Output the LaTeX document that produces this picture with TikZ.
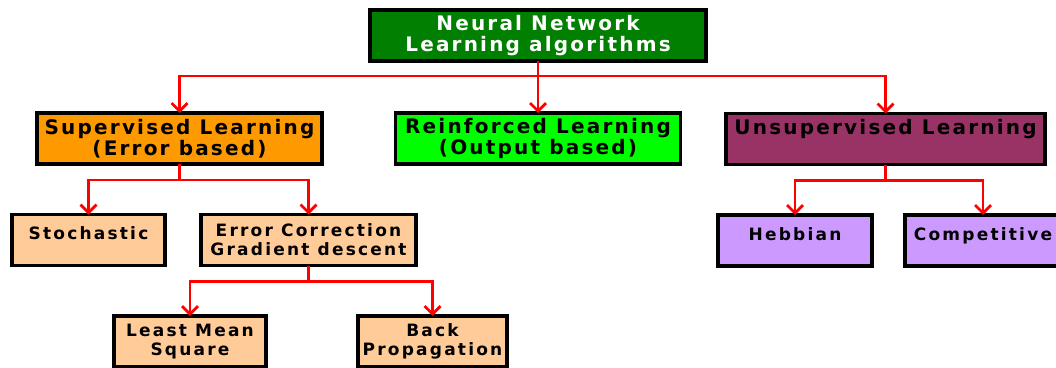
\documentclass[tikz,border=0pt]{standalone}
\usepackage{fontspec}
\newfontfamily\bigboxfont[LetterSpace=11]{DejaVu Sans}
\newfontfamily\smallboxfont[LetterSpace=13]{DejaVu Sans}
\usetikzlibrary{arrows.meta}
\definecolor{nngreen}{HTML}{007F00}
\definecolor{suporange}{HTML}{FF9900}
\definecolor{reinlime}{HTML}{00FF00}
\definecolor{unsmaroon}{HTML}{993366}
\definecolor{leafpeach}{HTML}{FFCC99}
\definecolor{leaflilac}{HTML}{CC99FF}

\begin{document}
\begin{tikzpicture}[x=1pt,y=-1pt,align=center,outer sep=0pt,
	box/.style={draw,line width=3.5pt,inner sep=0pt,minimum height=51pt},
	big/.style={font=\bigboxfont\bfseries\fontsize{20}{20.5}\selectfont},
	small/.style={font=\smallboxfont\bfseries\fontsize{17}{19}\selectfont},
	lifted/.style={text depth=#1},
	link/.style={draw=red,line width=2.8pt},
	arr/.style={link,-{Straight Barb[length=8pt,width=16pt,line width=2.8pt]}}]
		\useasboundingbox (0,0) rectangle (1056,367);
		\clip (0,0) rectangle (1056,367);
		% levels
		\node[box,big,fill=nngreen,text=white,minimum width=336pt] (nn) at (538,35.5) {Neural Network\\Learning algorithms};
		\node[box,big,fill=suporange,minimum width=285pt] (sup) at (179.5,138.5) {Supervised Learning\\(Error based)};
		\node[box,big,fill=reinlime,minimum width=285pt] (rein) at (538,138.5) {Reinforced Learning\\(Output based)};
		\node[box,big,fill=unsmaroon,minimum width=319pt,lifted=24pt] (unsup) at (885.5,139) {Unsupervised Learning};
		\node[box,small,fill=leafpeach,minimum width=153pt,lifted=13pt] (stoch) at (88.5,240) {Stochastic};
		\node[box,small,fill=leafpeach,minimum width=215pt] (errcorr) at (308.5,240) {Error Correction\\Gradient descent};
		\node[box,small,fill=leaflilac,minimum width=154pt,lifted=13pt] (hebb) at (795,240.5) {Hebbian};
		\node[box,small,fill=leaflilac,minimum width=156pt,lifted=13pt] (comp) at (983,240.5) {Competitive};
		\node[box,small,fill=leafpeach,minimum width=152pt] (lms) at (190,341.5) {Least Mean\\Square};
		\node[box,small,fill=leafpeach,minimum width=149pt] (backprop) at (432.5,341.5) {Back\\Propagation};
		% connectors
		\draw[link] (nn.south) -- ++(0,15) coordinate (busnn);
		\draw[arr] (busnn) -| (sup.north);
		\draw[arr] (busnn) -- (rein.north);
		\draw[arr] (busnn) -| (unsup.north);
		\draw[link] (sup.south) -- ++(0,16) coordinate (bussup);
		\draw[arr] (bussup) -| (stoch.north);
		\draw[arr] (bussup) -| (errcorr.north);
		\draw[link] (errcorr.south) -- ++(0,16) coordinate (buserr);
		\draw[arr] (buserr) -| (lms.north);
		\draw[arr] (buserr) -| (backprop.north);
		\draw[link] (unsup.south) -- ++(0,16) coordinate (busunsup);
		\draw[arr] (busunsup) -| (hebb.north);
		\draw[arr] (busunsup) -| (comp.north);
	\end{tikzpicture}
\end{document}
